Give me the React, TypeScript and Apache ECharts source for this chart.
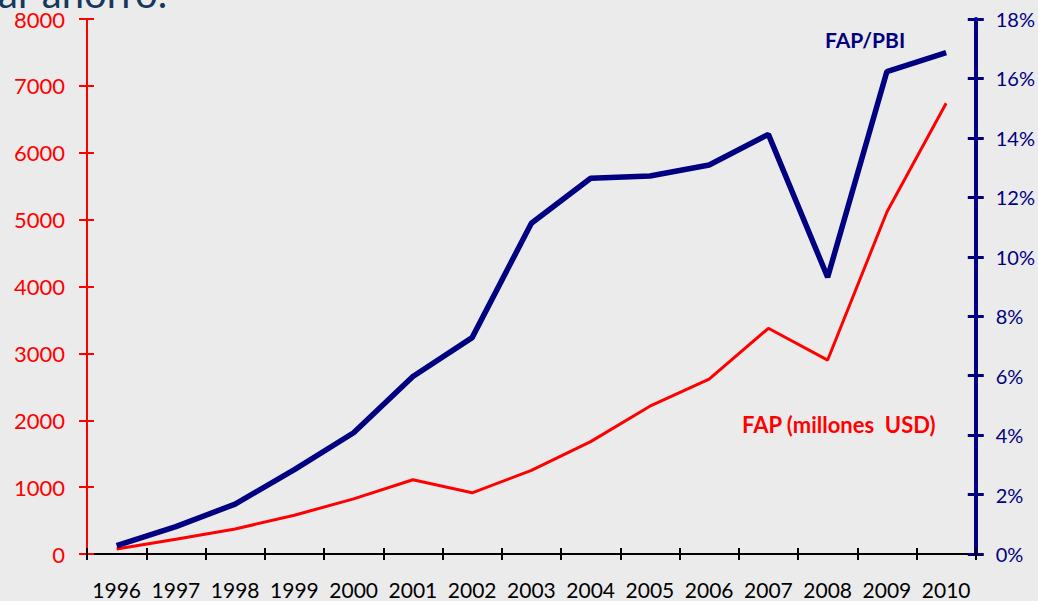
import React, { useEffect, useRef } from "react";
import * as echarts from "echarts";

const years = ["1996","1997","1998","1999","2000","2001","2002","2003","2004","2005","2006","2007","2008","2009","2010"];
const fapUSD = [75, 220, 375, 580, 825, 1110, 915, 1250, 1680, 2210, 2615, 3375, 2900, 5115, 6740];
const fapPBI = [0.28, 0.92, 1.68, 2.84, 4.08, 5.97, 7.28, 11.13, 12.64, 12.72, 13.09, 14.12, 9.31, 16.23, 16.87];
const leftTicks = [0, 8000, 1000];
const rightTicks = [0, 18, 2];

const FONT = "Lato, 'Open Sans', sans-serif";
const RED = "#ff0000";
const NAVY = "#000080";

export default function App() {
  const ref = useRef<HTMLDivElement>(null);
  useEffect(() => {
    const chart = echarts.init(ref.current!, null, { renderer: "svg" });
    const grid = { left: 87, right: 61, top: 19, bottom: 47 };
    chart.setOption({
      animation: false,
      backgroundColor: "#ebebeb",
      grid,
      xAxis: [
        {
          type: "category",
          data: years,
          boundaryGap: true,
          axisLine: { lineStyle: { color: "#000", width: 2 } },
          axisTick: { show: true, length: 6, interval: 0, lineStyle: { color: "#000", width: 2 } },
          axisLabel: { color: "#000", fontFamily: FONT, fontSize: 21, margin: 25, interval: 0, hideOverlap: false },
          splitLine: { show: false },
        },
        {
          type: "category",
          data: years,
          position: "bottom",
          boundaryGap: true,
          axisLine: { show: false },
          axisTick: { show: true, inside: true, length: 6, interval: 0, lineStyle: { color: "#000", width: 2 } },
          axisLabel: { show: false },
          splitLine: { show: false },
        },
      ],
      yAxis: [
        {
          type: "value",
          position: "left",
          min: leftTicks[0],
          max: leftTicks[1],
          interval: leftTicks[2],
          axisLine: { show: true, lineStyle: { color: RED, width: 2 } },
          axisTick: { show: true, length: 8, lineStyle: { color: RED, width: 2 } },
          axisLabel: { color: RED, fontFamily: FONT, fontSize: 22, margin: 22, formatter: (v: number) => String(v) },
          splitLine: { show: false },
        },
        {
          type: "value",
          position: "right",
          min: rightTicks[0],
          max: rightTicks[1],
          interval: rightTicks[2],
          axisLine: { show: true, lineStyle: { color: NAVY, width: 4 } },
          axisTick: { show: true, length: 8, lineStyle: { color: NAVY, width: 3 } },
          axisLabel: { color: NAVY, fontFamily: FONT, fontSize: 20, margin: 20, formatter: "{value}%" },
          splitLine: { show: false },
        },
        {
          type: "value",
          position: "left",
          min: leftTicks[0],
          max: leftTicks[1],
          interval: leftTicks[2],
          axisLine: { show: false },
          axisTick: { show: true, inside: true, length: 7, lineStyle: { color: RED, width: 2 } },
          axisLabel: { show: false },
          splitLine: { show: false },
        },
        {
          type: "value",
          position: "right",
          min: rightTicks[0],
          max: rightTicks[1],
          interval: rightTicks[2],
          axisLine: { show: false },
          axisTick: { show: true, inside: true, length: 8, lineStyle: { color: NAVY, width: 3 } },
          axisLabel: { show: false },
          splitLine: { show: false },
        },
      ],
      series: [
        {
          name: "FAP (millones USD)",
          type: "line",
          yAxisIndex: 0,
          data: fapUSD,
          symbol: "none",
          lineStyle: { color: RED, width: 3 },
          z: 3,
        },
        {
          name: "FAP/PBI",
          type: "line",
          yAxisIndex: 1,
          data: fapPBI,
          symbol: "none",
          lineStyle: { color: NAVY, width: 5.5 },
          z: 4,
        },
      ],
      graphic: [
        {
          type: "text",
          left: -2,
          top: -27,
          style: { text: "ar ahorro.", fill: "#17375e", font: `40px ${FONT}` },
        },
        {
          type: "text",
          left: 825,
          top: 29,
          style: { text: "FAP/PBI", fill: NAVY, font: `bold 21px ${FONT}` },
        },
        {
          type: "text",
          left: 742,
          top: 413,
          style: { text: "FAP (millones  USD)", fill: RED, font: `bold 22px ${FONT}` },
        },
      ],
    });
    return () => chart.dispose();
  }, []);
  return <div ref={ref} style={{ width: 1038, height: 601, position: "absolute", left: 0, top: 0 }} />;
}
